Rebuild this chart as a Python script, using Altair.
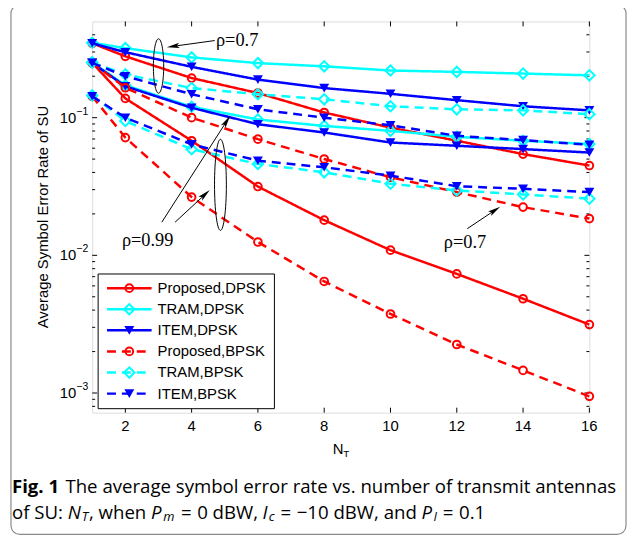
import math
import altair as alt
import pandas as pd

# ---------------- data ----------------
N = [1, 2, 4, 6, 8, 10, 12, 14, 16]

# rho = 0.7
prop_dpsk_07 = [0.347, 0.279, 0.194, 0.151, 0.109, 0.0847, 0.068, 0.0544, 0.0449]
tram_dpsk_07 = [0.350, 0.320, 0.274, 0.249, 0.236, 0.220, 0.215, 0.209, 0.203]
item_dpsk_07 = [0.347, 0.299, 0.234, 0.189, 0.164, 0.149, 0.134, 0.121, 0.113]
prop_bpsk_07 = [0.250, 0.165, 0.100, 0.0698, 0.0501, 0.0369, 0.0288, 0.0224, 0.0185]
tram_bpsk_07 = [0.252, 0.206, 0.164, 0.148, 0.136, 0.121, 0.115, 0.113, 0.106]
item_bpsk_07 = [0.250, 0.200, 0.148, 0.115, 0.100, 0.088, 0.0738, 0.0687, 0.0635]

# rho = 0.99
prop_dpsk_099 = [0.250, 0.138, 0.068, 0.0316, 0.018, 0.0109, 0.00733, 0.00484, 0.00314]
tram_dpsk_099 = [0.252, 0.172, 0.120, 0.097, 0.0871, 0.0802, 0.0726, 0.068, 0.0643]
item_dpsk_099 = [0.250, 0.169, 0.118, 0.0896, 0.078, 0.066, 0.0625, 0.0591, 0.0558]
prop_bpsk_099 = [0.143, 0.0717, 0.0265, 0.0125, 0.00646, 0.00375, 0.00225, 0.00146, 0.000946]
tram_bpsk_099 = [0.145, 0.0946, 0.059, 0.0461, 0.0401, 0.0331, 0.0296, 0.0277, 0.0258]
item_bpsk_099 = [0.143, 0.100, 0.064, 0.0487, 0.0436, 0.0379, 0.0318, 0.0304, 0.0288]

legend_labels = ["Proposed,DPSK", "TRAM,DPSK", "ITEM,DPSK",
                 "Proposed,BPSK", "TRAM,BPSK", "ITEM,BPSK"]

x_ticks = [2, 4, 6, 8, 10, 12, 14, 16]
x_grid = [2, 4, 6, 8, 10, 12, 14]
y_major = [0.001, 0.01, 0.1]
y_exp = ["\u22123", "\u22122", "\u22121"]
y_minor = [0.0008, 0.0009,
           0.002, 0.003, 0.004, 0.005, 0.006, 0.007, 0.008, 0.009,
           0.02, 0.03, 0.04, 0.05, 0.06, 0.07, 0.08, 0.09,
           0.2, 0.3, 0.4]

# ---------------- layout ----------------
W, H = 502, 395
OX, OY = 93, 19          # plot origin on the page
PADL, PADT = OX - 8, OY - 8
PADR = 633 - 8 - PADL - W
PADB = 538 - 8 - PADT - H

RED, CYAN, BLUE = "#ff0000", "#00ffff", "#0000ff"
SOLID, DASH = [1, 0], [9, 6]
LW = 2.5
TICKFONT = "Liberation Sans"

xscale = alt.Scale(domain=[1, 16], nice=False, zero=False)
yscale = alt.Scale(type="log", domain=[0.00072, 0.5], nice=False)


def px(xm):
    return xm - OX


def py(ym):
    return ym - OY


one = pd.DataFrame({"k": [0]})
layers = []

# grid layer
grid_vals = sorted(y_minor + y_major)
axis_layer = alt.Chart(pd.DataFrame({"N": [1, 16], "SER": [0.001, 0.1]})).mark_point(opacity=0).encode(
    x=alt.X("N:Q", scale=xscale,
            axis=alt.Axis(values=x_grid, grid=True, gridDash=[1, 3], gridColor="#333",
                          gridWidth=1, ticks=False, labels=False, domain=False, title=None)),
    y=alt.Y("SER:Q", scale=yscale,
            axis=alt.Axis(values=grid_vals, grid=True, gridDash=[1, 3], gridColor="#333",
                          gridWidth=1, ticks=False, labels=False, domain=False, title=None)),
)
layers.append(axis_layer)

# inward ticks
tx = pd.DataFrame({"v": x_ticks})
for y0, y1 in [(0, 5), (H - 5, H)]:
    layers.append(alt.Chart(tx).mark_rule(color="black", strokeWidth=1).encode(
        x=alt.X("v:Q", scale=xscale, axis=None), y=alt.value(y0), y2=alt.value(y1)))
tmaj = pd.DataFrame({"v": y_major})
tmin = pd.DataFrame({"v": y_minor})
for df_t, ln in [(tmaj, 5), (tmin, 3)]:
    for x0, x1 in [(0, ln), (W - ln, W)]:
        layers.append(alt.Chart(df_t).mark_rule(color="black", strokeWidth=1).encode(
            y=alt.Y("v:Q", scale=yscale, axis=None), x=alt.value(x0), x2=alt.value(x1)))

# x tick labels
layers.append(alt.Chart(tx).mark_text(align="center", baseline="middle", fontSize=15,
                                      font=TICKFONT, color="black").encode(
    x=alt.X("v:Q", scale=xscale, axis=None), y=alt.value(py(428)), text="v:N"))

# y tick labels 10^k
ylab = pd.DataFrame({"v": y_major, "e": y_exp})
layers.append(alt.Chart(ylab).mark_text(text="10", align="right", baseline="middle",
                                        fontSize=15, font=TICKFONT, color="black").encode(
    y=alt.Y("v:Q", scale=yscale, axis=None), x=alt.value(-16)))
layers.append(alt.Chart(ylab).mark_text(align="left", baseline="middle", dy=-6,
                                        fontSize=10.5, font=TICKFONT, color="black").encode(
    y=alt.Y("v:Q", scale=yscale, axis=None), x=alt.value(-16), text="e:N"))

# series
series = [
    (prop_dpsk_07, RED, SOLID, "circle", False, 60),
    (tram_dpsk_07, CYAN, SOLID, "diamond", False, 110),
    (item_dpsk_07, BLUE, SOLID, "triangle-down", True, 100),
    (prop_dpsk_099, RED, SOLID, "circle", False, 60),
    (tram_dpsk_099, CYAN, SOLID, "diamond", False, 110),
    (item_dpsk_099, BLUE, SOLID, "triangle-down", True, 100),
    (prop_bpsk_07, RED, DASH, "circle", False, 60),
    (tram_bpsk_07, CYAN, DASH, "diamond", False, 110),
    (item_bpsk_07, BLUE, DASH, "triangle-down", True, 100),
    (prop_bpsk_099, RED, DASH, "circle", False, 60),
    (tram_bpsk_099, CYAN, DASH, "diamond", False, 110),
    (item_bpsk_099, BLUE, DASH, "triangle-down", True, 100),
]
for vals, col, dash, shp, filled, sz in series:
    d = pd.DataFrame({"N": N, "SER": vals})
    enc = dict(x=alt.X("N:Q", scale=xscale, axis=None),
               y=alt.Y("SER:Q", scale=yscale, axis=None))
    layers.append(alt.Chart(d).mark_line(color=col, strokeWidth=LW, strokeDash=dash).encode(**enc))
    layers.append(alt.Chart(d).mark_point(shape=shp, filled=filled, color=col, size=sz,
                                          strokeWidth=2, opacity=1).encode(**enc))

# ---------------- annotations ----------------
ELLIPSE = "M 0 -1 A 0.19 1 0 1 1 0 1 A 0.19 1 0 1 1 0 -1 Z"
ELLIPSE2 = "M 0 -1 A 0.13 1 0 1 1 0 1 A 0.13 1 0 1 1 0 -1 Z"
ARROW = "M 0 -1 L 0.42 1 L 0 0.55 L -0.42 1 Z"


def ellipse(path, cx, cy, h):
    return alt.Chart(one).mark_point(shape=path, filled=False, color="black", size=h * h,
                                     strokeWidth=1, opacity=1).encode(
        x=alt.value(px(cx)), y=alt.value(py(cy)))


def arrow(x0, y0, x1, y1, ang):
    dx, dy = x1 - x0, y1 - y0
    ln = math.hypot(dx, dy)
    ux, uy = dx / ln, dy / ln
    hl = 13
    cx, cy = x1 - ux * hl / 2, y1 - uy * hl / 2
    line = alt.Chart(one).mark_rule(color="black", strokeWidth=1).encode(
        x=alt.value(px(x0)), y=alt.value(py(y0)),
        x2=alt.value(px(x1 - ux * 6)), y2=alt.value(py(y1 - uy * 6)))
    head = alt.Chart(one).mark_point(shape=ARROW, filled=True, color="black", size=hl * hl,
                                     angle=ang, opacity=1).encode(
        x=alt.value(px(cx)), y=alt.value(py(cy)))
    return [line, head]


def label(txt, x, y, size=16, font="Liberation Serif", align="left", **kw):
    return alt.Chart(one).mark_text(text=txt, align=align, baseline="middle", fontSize=size,
                                    font=font, color="black", **kw).encode(
        x=alt.value(px(x)), y=alt.value(py(y)))


layers.append(ellipse(ELLIPSE, 160, 64, 55))
layers.append(ellipse(ELLIPSE2, 222.5, 184, 92))
layers += arrow(216.7, 38.3, 168.3, 45, 262)
layers += arrow(163.3, 221.7, 232.3, 114.3, 32.7)
layers += arrow(176.7, 221.7, 211.7, 189.3, 47.2)
layers += arrow(471.7, 228.3, 505, 206, 56.2)
layers.append(label("\u03c1=0.7", 218, 38, size=18.5))
layers.append(label("\u03c1=0.99", 123, 240, size=18.5))
layers.append(label("\u03c1=0.7", 448, 242, size=18.5))

# ---------------- legend ----------------
layers.append(alt.Chart(one).mark_rect(fill="white", stroke="black", strokeWidth=1).encode(
    x=alt.value(px(99)), x2=alt.value(px(277)), y=alt.value(py(274)), y2=alt.value(py(410))))
leg_style = [(RED, SOLID, "circle", False, 60), (CYAN, SOLID, "diamond", False, 110),
             (BLUE, SOLID, "triangle-down", True, 100), (RED, DASH, "circle", False, 60),
             (CYAN, DASH, "diamond", False, 110), (BLUE, DASH, "triangle-down", True, 100)]
for i, (name, (col, dash, shp, filled, sz)) in enumerate(zip(legend_labels, leg_style)):
    yy = 288.3 + i * 21.3
    layers.append(alt.Chart(one).mark_rule(color=col, strokeWidth=LW, strokeDash=dash).encode(
        x=alt.value(px(108)), x2=alt.value(px(153)), y=alt.value(py(yy))))
    layers.append(alt.Chart(one).mark_point(shape=shp, filled=filled, color=col, size=sz,
                                            strokeWidth=2, opacity=1).encode(
        x=alt.value(px(130.5)), y=alt.value(py(yy))))
    layers.append(label(name, 159, yy, size=15, font=TICKFONT))

# ---------------- axis titles ----------------
layers.append(alt.Chart(one).mark_text(text="Average Symbol Error Rate of SU", angle=270,
                                       align="center", baseline="middle", fontSize=15,
                                       font=TICKFONT, color="black").encode(
    x=alt.value(px(43)), y=alt.value(H / 2)))
layers.append(label("N", 336, 451, size=15, font=TICKFONT))
layers.append(label("T", 346.5, 456, size=10, font=TICKFONT))

# ---------------- frame and caption ----------------
layers.append(alt.Chart(one).mark_rect(fillOpacity=0, stroke="#8a8a8a", strokeWidth=1.2,
                                       cornerRadius=9).encode(
    x=alt.value(px(11)), x2=alt.value(px(632)), y=alt.value(py(2)), y2=alt.value(py(537))))

CAP = "Open Sans"
CS = 18.8
SUBS = 13
# approximate Open Sans advance widths (per 1000 em) to lay out caption pieces
ADV = {"a": 556, "b": 613, "c": 480, "d": 613, "e": 561, "f": 336, "g": 547, "h": 614,
       "i": 258, "l": 258, "m": 932, "n": 614, "o": 601, "r": 399, "s": 474, "t": 353,
       "u": 614, "v": 499, "w": 774, "y": 499, " ": 260, ",": 258, ":": 258, ".": 266,
       "=": 571, "\u2212": 571, "0": 571, "1": 571, "S": 549, "U": 731, "N": 700,
       "P": 603, "I": 279, "T": 556, "B": 625, "W": 925, "D": 700}


def tw(s, size):
    return sum(ADV.get(ch, 560) for ch in s) * size / 1000.0


y1, y2 = 489, 515
layers.append(label("Fig. 1", 12, y1, size=CS, font=CAP, fontWeight="bold"))
layers.append(label("The average symbol error rate vs. number of transmit antennas", 66, y1,
                    size=CS, font=CAP))
SP = 0.26 * CS      # word space
TH = 0.30 * CS      # math spacing around "="
# (text, style, subscript, gap after)
segs = [("of SU:", "normal", 0, SP), ("N", "italic", 0, 1), ("T", "italic", 1, 0),
        (",", "normal", 0, SP), ("when", "normal", 0, SP), ("P", "italic", 0, 1),
        ("m", "italic", 1, TH), ("=", "normal", 0, TH), ("0 dBW,", "normal", 0, SP),
        ("I", "italic", 0, 1), ("c", "italic", 1, TH), ("=", "normal", 0, TH),
        ("\u221210 dBW, and", "normal", 0, SP), ("P", "italic", 0, 1),
        ("I", "italic", 1, TH), ("=", "normal", 0, TH), ("0.1", "normal", 0, 0)]
xc = 12.0
for t, st, sub, gap in segs:
    sz = SUBS if sub else CS
    layers.append(label(t, xc, y2 + (4.5 if sub else 0), size=sz, font=CAP, fontStyle=st))
    xc += tw(t, sz) + gap

chart = alt.layer(*layers).properties(
    width=W, height=H,
    padding={"left": PADL, "top": PADT, "right": PADR, "bottom": PADB},
    autosize=alt.AutoSizeParams(type="none"),
).configure_view(stroke="black", strokeWidth=1).configure(background="white")

chart.save("out.html", embed_options={"renderer": "svg", "actions": False})
